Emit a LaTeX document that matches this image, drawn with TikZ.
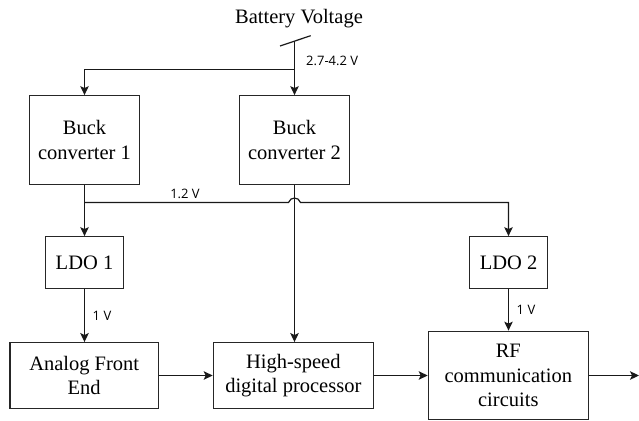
\documentclass[tikz,border=0pt]{standalone}
\usepackage{fontspec}
\setmainfont{Liberation Serif}
\newfontfamily\boxfont{Liberation Serif}
\newfontfamily\labelfont{Open Sans}
\usetikzlibrary{arrows.meta}
\tikzset{
  blk/.style={draw=black!85, line width=1.2pt, inner sep=0pt, align=center,
    font=\boxfont\fontsize{20.5}{24.4}\selectfont},
  wire/.style={draw=black!90, line width=1.2pt},
  arr/.style={wire, -{Stealth[length=9pt,width=8.5pt,inset=2pt]}},
  vlab/.style={font=\labelfont\fontsize{13}{15}\selectfont, inner sep=0pt},
}
\begin{document}
\begin{tikzpicture}[x=1pt,y=-1pt]
\useasboundingbox (0,0) rectangle (639,420);
\clip (0,0) rectangle (639,420);

\node[blk, minimum width=110pt, minimum height=88.6pt] (buck1) at (84.5,140) {Buck\\converter 1};
\node[blk, minimum width=110.3pt, minimum height=88.6pt] (buck2) at (294.5,140) {Buck\\converter 2};
\node[blk, minimum width=78.3pt, minimum height=51.6pt] (ldo1) at (84.5,262.5) {LDO 1};
\node[blk, minimum width=78.7pt, minimum height=51.6pt] (ldo2) at (508.5,262.5) {LDO 2};
\node[blk, minimum width=148.3pt, minimum height=65.7pt] (afe) at (84.2,375.5) {Analog Front\\End};
\node[blk, minimum width=160pt, minimum height=65.7pt] (hsdp) at (293.3,375.5) {High-speed\\digital processor};
\node[blk, minimum width=160pt, minimum height=88.6pt] (rf) at (508.3,375.5) {RF\\communication\\circuits};

\node[inner sep=0pt, font=\boxfont\fontsize{20.5}{24.4}\selectfont] (bv) at (299,19) {Battery Voltage};

\coordinate (bat) at (294.5,41.5);
\coordinate (s1) at (280,46);
\coordinate (s2) at (310.7,35.7);
\coordinate (j1) at (294.5,69.5);
\coordinate (j1l) at (84.5,69.5);
\coordinate (j2) at (84.5,202.5);
\coordinate (h1) at (288.5,202.5);
\coordinate (h2) at (300.5,202.5);
\coordinate (j3) at (508.5,202.5);
\coordinate (out) at (639,375.5);

% battery input
\draw[wire] (s1) -- (s2);
\draw[arr] (bat) -- (bat |- buck2.north);
\draw[arr] (j1) -- (j1l) -- (buck1.north);
\node[vlab, anchor=west] (lbat) at (306,61) {2.7-4.2 V};

% 1.2 V rail
\draw[wire] (buck1.south) -- (j2);
\draw[arr] (j2) -- (ldo1.north);
\draw[arr] (j2) -- (h1) .. controls (290.5,196.5) and (298.5,196.5) .. (h2) -- (j3) -- (ldo2.north);
\node[vlab] (l12) at (185,194) {1.2 V};

% buck 2 to processor
\draw[arr] (buck2.south) -- (buck2.south |- hsdp.north);

% LDO outputs
\draw[arr] (ldo1.south) -- (ldo1.south |- afe.north);
\node[vlab] (l1a) at (102,316) {1 V};
\draw[arr] (ldo2.south) -- (ldo2.south |- rf.north);
\node[vlab] (l1b) at (526,310) {1 V};

% signal chain
\draw[arr] (afe.east) -- (afe.east -| hsdp.west);
\draw[arr] (hsdp.east) -- (hsdp.east -| rf.west);
\draw[arr] (rf.east |- out) -- (out);
\end{tikzpicture}
\end{document}
